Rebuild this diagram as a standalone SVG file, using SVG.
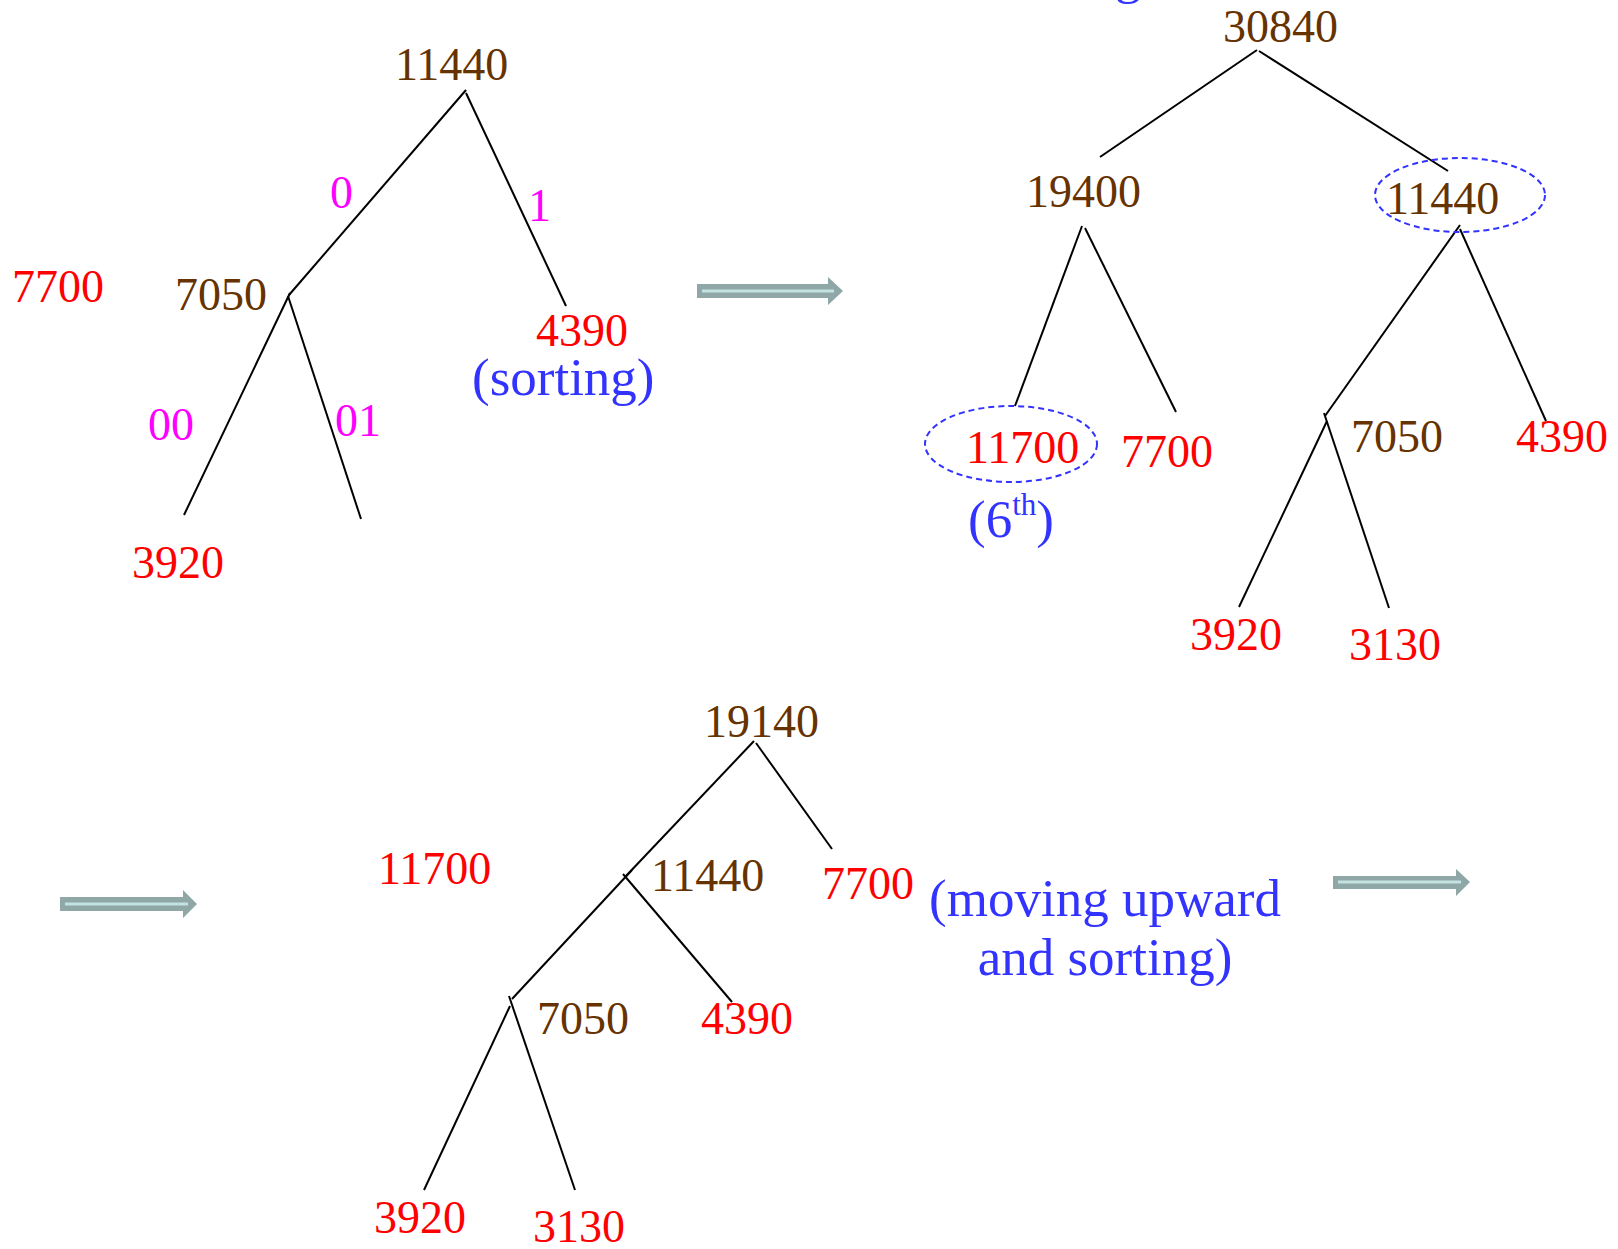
<svg xmlns="http://www.w3.org/2000/svg" width="1618" height="1249" viewBox="0 0 1618 1249">
<style>
text { font-family: "Liberation Serif", "Times New Roman", serif; font-size: 46px; }
.brown { fill: #663300; }
.red { fill: #ff0000; }
.mag { fill: #ff00ff; }
.blue { fill: #3333ff; font-size: 53px; }
.sup { font-size: 31px; }
.edge { stroke: #000; stroke-width: 2; fill: none; }
.ring { stroke: #3333ff; stroke-width: 2; stroke-dasharray: 6 4; fill: none; }
.arr { fill: #8fa7a7; }
.arrIn { stroke: #c4e2e2; stroke-width: 3; fill: none; }
</style>
<rect width="1618" height="1249" fill="#fff"/>

<g id="connectors">
  <!-- tree 1 -->
  <path class="edge" d="M466 90 L289 295"/>
  <path class="edge" d="M466 93 L566 306"/>
  <path class="edge" d="M290 293 L184 515"/>
  <path class="edge" d="M288 296 L361 519"/>
  <!-- tree 2 -->
  <path class="edge" d="M1257 50 L1100 157"/>
  <path class="edge" d="M1259 51 L1448 171"/>
  <path class="edge" d="M1082 226 L1015 406"/>
  <path class="edge" d="M1085 228 L1176 412"/>
  <path class="edge" d="M1460 225 L1325 416"/>
  <path class="edge" d="M1460 229 L1546 421"/>
  <path class="edge" d="M1327 421 L1239 607"/>
  <path class="edge" d="M1324 413 L1389 608"/>
  <!-- tree 3 -->
  <path class="edge" d="M754 741 L626 876"/>
  <path class="edge" d="M756 743 L832 849"/>
  <path class="edge" d="M632 870 L512 999"/>
  <path class="edge" d="M623 874 L732 1002"/>
  <path class="edge" d="M510 1006 L424 1190"/>
  <path class="edge" d="M509 996 L575 1190"/>
</g>

<g id="arrows">
  <path class="arr" d="M697 284 H828 V277 L843 291 L828 305 V298 H697 Z"/>
  <path class="arrIn" d="M702 291 H834"/>
  <path class="arr" d="M60 897 H183 V890 L197 904 L183 918 V911 H60 Z"/>
  <path class="arrIn" d="M65 904 H188"/>
  <path class="arr" d="M1333 876 H1456 V869 L1470 882 L1456 896 V889 H1333 Z"/>
  <path class="arrIn" d="M1338 882 H1461"/>
</g>

<g id="rings">
  <ellipse class="ring" cx="1460" cy="195" rx="85" ry="37"/>
  <ellipse class="ring" cx="1011" cy="444" rx="86" ry="38"/>
</g>

<!-- tree 1 -->
<g id="t1-11440"><text class="brown" x="395" y="80">11440</text></g>
<g id="t1-7700"><text class="red" x="12" y="302">7700</text></g>
<g id="t1-7050"><text class="brown" x="175" y="310">7050</text></g>
<g id="t1-4390"><text class="red" x="536" y="346">4390</text></g>
<g id="t1-3920"><text class="red" x="132" y="578">3920</text></g>
<g id="t1-lbl0"><text class="mag" x="330" y="208">0</text></g>
<g id="t1-lbl1"><text class="mag" x="528" y="221">1</text></g>
<g id="t1-lbl00"><text class="mag" x="148" y="440">00</text></g>
<g id="t1-lbl01"><text class="mag" x="335" y="436">01</text></g>
<g id="t1-note"><text class="blue" x="472" y="395">(sorting)</text></g>

<!-- tree 2 -->
<g id="frag-g"><text class="blue" x="1115" y="-7">g</text></g>
<g id="t2-30840"><text class="brown" x="1223" y="42">30840</text></g>
<g id="t2-19400"><text class="brown" x="1026" y="207">19400</text></g>
<g id="t2-11440"><text class="brown" x="1386" y="214">11440</text></g>
<g id="t2-11700"><text class="red" x="966" y="463">11700</text></g>
<g id="t2-7700"><text class="red" x="1121" y="467">7700</text></g>
<g id="t2-6th"><text class="blue" x="968" y="537">(6<tspan class="sup" dy="-22">th</tspan><tspan dy="22">)</tspan></text></g>
<g id="t2-7050"><text class="brown" x="1351" y="452">7050</text></g>
<g id="t2-4390"><text class="red" x="1516" y="452">4390</text></g>
<g id="t2-3920"><text class="red" x="1190" y="650">3920</text></g>
<g id="t2-3130"><text class="red" x="1349" y="660">3130</text></g>

<!-- tree 3 -->
<g id="t3-19140"><text class="brown" x="704" y="737">19140</text></g>
<g id="t3-11700"><text class="red" x="378" y="884">11700</text></g>
<g id="t3-11440"><text class="brown" x="651" y="891">11440</text></g>
<g id="t3-7700"><text class="red" x="822" y="899">7700</text></g>
<g id="t3-7050"><text class="brown" x="537" y="1034">7050</text></g>
<g id="t3-4390"><text class="red" x="701" y="1034">4390</text></g>
<g id="t3-3920"><text class="red" x="374" y="1233">3920</text></g>
<g id="t3-3130"><text class="red" x="533" y="1242">3130</text></g>
<g id="t3-note"><text class="blue" x="1105" y="916" text-anchor="middle">(moving upward</text><text class="blue" x="1105" y="975" text-anchor="middle">and sorting)</text></g>
</svg>
